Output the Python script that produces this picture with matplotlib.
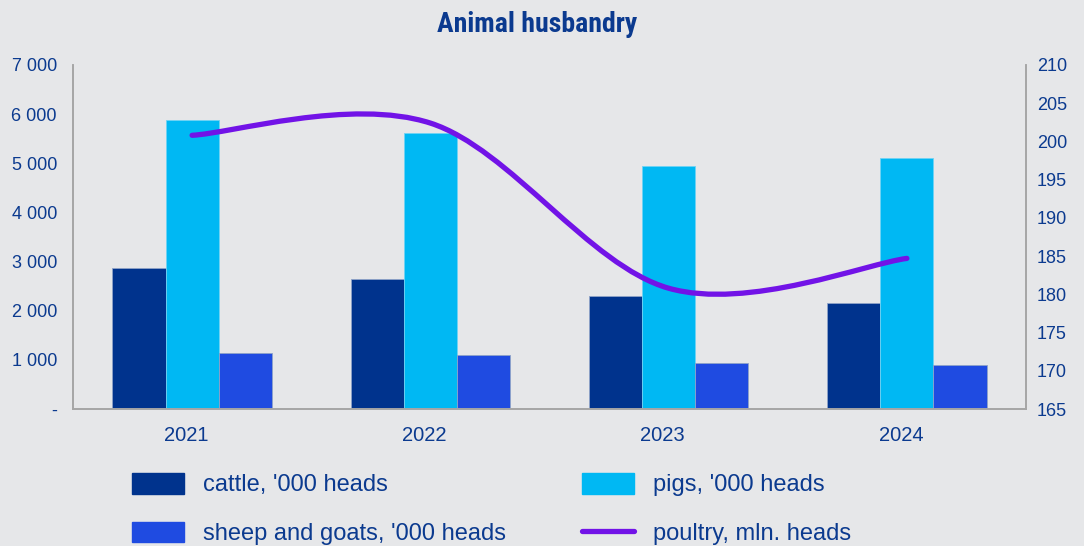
import matplotlib.pyplot as plt
import numpy as np
from matplotlib import font_manager as fm
from matplotlib import transforms
from matplotlib.path import Path
from matplotlib.patches import PathPatch, Patch
from matplotlib.lines import Line2D
from matplotlib.ticker import FuncFormatter

# Data
years = ["2021", "2022", "2023", "2024"]
cattle = [2875, 2645, 2306, 2152]
pigs = [5881, 5612, 4951, 5102]
sheep_goats = [1133, 1099, 942, 898]
poultry = [200.8, 202.4, 180.8, 184.7]

labels = ["cattle, '000 heads", "pigs, '000 heads",
          "sheep and goats, '000 heads", "poultry, mln. heads"]

bg = "#e6e7e9"
txt = "#0b3a8f"
c_cattle = "#00338d"
c_pigs = "#00b8f3"
c_sheep = "#1f4be1"
c_line = "#7213e7"
spine_c = "#a6a6a6"

plt.rcParams["font.family"] = ["Liberation Sans", "DejaVu Sans"]

# pick a condensed face for the title if one is installed
installed = {f.name for f in fm.fontManager.ttflist}
title_family = "Liberation Sans"
for name in ["Liberation Sans Narrow", "Roboto Condensed", "DejaVu Sans Condensed",
             "Open Sans Condensed", "Noto Sans Condensed"]:
    if name in installed:
        title_family = name
        break

fig = plt.figure(figsize=(10.84, 5.46), dpi=100, facecolor=bg)
ax = fig.add_axes([0.0673, 0.2509, 0.8792, 0.6301], facecolor=bg)
ax2 = ax.twinx()

x = np.arange(len(years))
w = 0.223
edge = "#8fa3c8"
ax.bar(x - w, cattle, w, color=c_cattle, edgecolor=edge, linewidth=0.6, zorder=2)
ax.bar(x, pigs, w, color=c_pigs, edgecolor="#6fd3f5", linewidth=0.6, zorder=2)
ax.bar(x + w, sheep_goats, w, color=c_sheep, edgecolor=edge, linewidth=0.6, zorder=2)

ax.set_xlim(-0.5, 3.5)
ax.set_ylim(0, 7000)
ax.set_yticks(np.arange(0, 7001, 1000))
ax.yaxis.set_major_formatter(FuncFormatter(
    lambda v, p: "-" if v == 0 else f"{int(v):,}".replace(",", " ")))
ax.set_xticks(x)
ax.set_xticklabels(years)

ax2.set_ylim(165, 210)
ax2.set_yticks(np.arange(165, 211, 5))

# smoothed line (Catmull-Rom style, like spreadsheet smoothing)
pts = np.column_stack([x, poultry]).astype(float)
verts = [pts[0]]
codes = [Path.MOVETO]
n = len(pts)
for i in range(n - 1):
    p0 = pts[max(i - 1, 0)]
    p1 = pts[i]
    p2 = pts[i + 1]
    p3 = pts[min(i + 2, n - 1)]
    verts += [p1 + (p2 - p0) / 6, p2 - (p3 - p1) / 6, p2]
    codes += [Path.CURVE4] * 3
ax2.add_patch(PathPatch(Path(verts, codes), facecolor="none", edgecolor=c_line,
                        linewidth=3.8, capstyle="round", zorder=3))

for a in (ax, ax2):
    a.tick_params(length=0, colors=txt, labelsize=13)
    for s in a.spines.values():
        s.set_color(spine_c)
        s.set_linewidth(1.2)
    a.spines["top"].set_visible(False)
ax.tick_params(axis="y", pad=11.5)
ax.tick_params(axis="x", pad=12, labelsize=14.5)
ax2.tick_params(axis="y", pad=7.7)

shift = transforms.ScaledTranslation(-6 / 100, 0, fig.dpi_scale_trans)
for lab in ax.get_xticklabels():
    lab.set_transform(lab.get_transform() + shift)

fig.text(0.4954, 1 - 32 / 546, "Animal husbandry", ha="center", va="baseline",
         fontsize=20, fontweight="bold", color=txt,
         family=[title_family, "DejaVu Sans"])

handles = [Patch(color=c_cattle), Patch(color=c_pigs),
           Patch(color=c_sheep),
           Line2D([0], [0], color=c_line, lw=3.8, solid_capstyle="round")]
order = [0, 2, 1, 3]
leg = fig.legend([handles[i] for i in order], [labels[i] for i in order],
                 ncol=2, loc="upper left", bbox_to_anchor=(132 / 1084, 1 - 473 / 546),
                 frameon=False, fontsize=17, handlelength=2.2, handleheight=0.96,
                 handletextpad=0.8, columnspacing=3.23, labelspacing=1.07,
                 borderpad=0, borderaxespad=0)
for t in leg.get_texts():
    t.set_color(txt)

fig.savefig("out.png", dpi=100, facecolor=bg)
